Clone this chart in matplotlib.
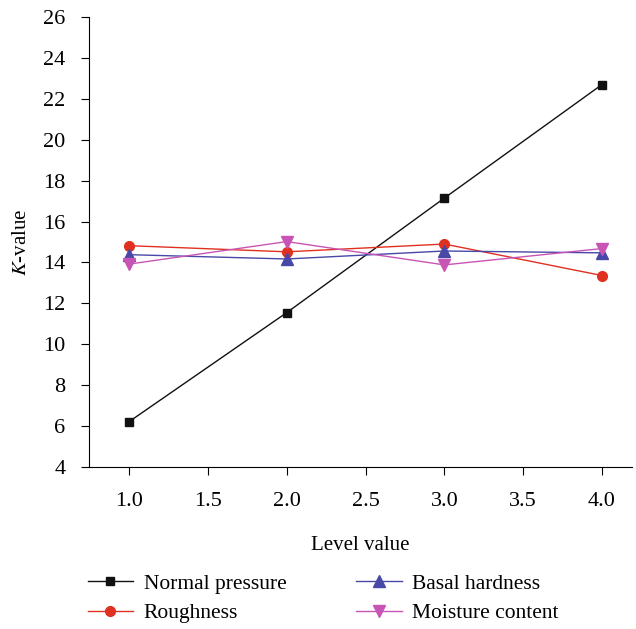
import matplotlib
matplotlib.use("Agg")
import matplotlib.pyplot as plt

plt.rcParams['font.family'] = ['Liberation Serif', 'DejaVu Serif']
plt.rcParams['mathtext.fontset'] = 'stix'

levels = [1.0, 2.0, 3.0, 4.0]
normal_pressure = [6.22, 11.55, 17.15, 22.7]
roughness = [14.82, 14.52, 14.9, 13.36]
basal_hardness = [14.38, 14.17, 14.56, 14.47]
moisture_content = [13.92, 15.02, 13.88, 14.68]

fig = plt.figure(figsize=(6.36, 6.29), dpi=100)
ax = fig.add_axes([89/636, 1 - 467/629, (632-89)/636, (467-17)/629])

ax.plot(levels, normal_pressure, color="#111111", marker="s", markersize=6, lw=1, label="Normal pressure")
ax.plot(levels, roughness, color="#e03020", marker="o", markersize=7, lw=1, label="Roughness")
ax.plot(levels, basal_hardness, color="#4848a8", marker="^", markersize=8, lw=1, label="Basal hardness")
ax.plot(levels, moisture_content, color="#c855b5", marker="v", markersize=8, lw=1, label="Moisture content")

ax.set_xlim(0.745, 4.19)
ax.set_ylim(4, 26)
ax.set_xticks([1.0, 1.5, 2.0, 2.5, 3.0, 3.5, 4.0])
ax.set_xticklabels(["1.0", "1.5", "2.0", "2.5", "3.0", "3.5", "4.0"])
ax.set_yticks(range(4, 27, 2))
ax.spines['top'].set_visible(False)
ax.spines['right'].set_visible(False)
ax.tick_params(direction="out", length=6, labelsize=16)
ax.tick_params(axis="x", pad=12)
ax.tick_params(axis="y", pad=11)
ax.set_xlabel("Level value", fontsize=15, labelpad=18)
ax.set_ylabel("$K$-value", fontsize=15, labelpad=9)

fig.legend(loc="upper left", bbox_to_anchor=(0.138, 0.088), ncol=2, frameon=False,
           borderpad=0, borderaxespad=0,
           fontsize=15.5, handlelength=2.1, handletextpad=0.5, columnspacing=3.25, labelspacing=0.45)

plt.savefig("out.png", dpi=100)
